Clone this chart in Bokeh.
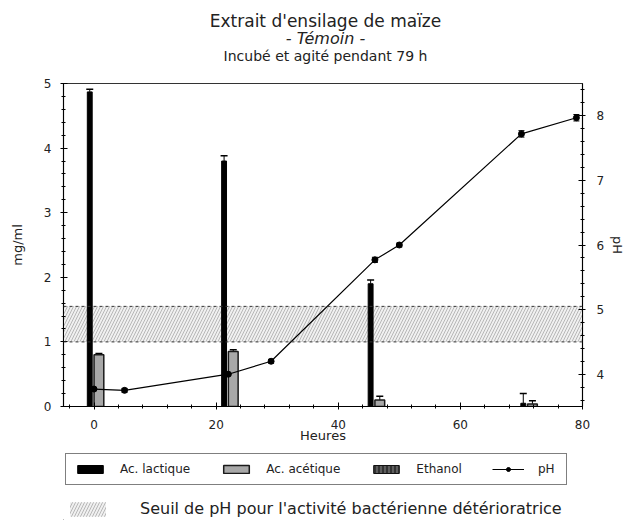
from bokeh.plotting import figure
from bokeh.layouts import column
from bokeh.models import (LinearAxis, Range1d, Legend, LegendItem, Whisker, Label,
                          TeeHead, ColumnDataSource, FixedTicker, Span)
from bokeh.embed import file_html
from bokeh.resources import INLINE

# ---------------- data ----------------
sample_hours = [0, 22, 46, 71]
lactic = [4.87, 3.80, 1.90, 0.05]
lactic_err = [0.04, 0.08, 0.06, 0.15]
acetic = [0.80, 0.85, 0.10, 0.04]
acetic_err = [0.02, 0.03, 0.06, 0.05]
ethanol = [0.0, 0.0, 0.0, 0.0]

ph_hours = [0, 5, 22, 29, 46, 50, 70, 79]
ph_values = [3.77, 3.75, 4.00, 4.20, 5.77, 6.00, 7.72, 7.97]
ph_err = [0.03, 0.03, 0.03, 0.03, 0.04, 0.03, 0.05, 0.05]

threshold_low, threshold_high = 4.5, 5.05

x_ticks = [0, 20, 40, 60, 80]
mg_ticks = [0, 1, 2, 3, 4, 5]
ph_ticks = [4, 5, 6, 7, 8]

x_lo, x_hi = -5, 80
mg_lo, mg_hi = 0, 5
ph_lo, ph_hi = 3.5, 8.5

FONT = "DejaVu Sans"
TXT = "#222222"

# styles shared by the plot and its legend panel
LAC = dict(fill_color="black", line_color="black")
ACE = dict(fill_color="#a8a8a8", line_color="#1a1a1a", line_width=1.5)
ETH = dict(fill_color="#333333", line_color="#111111", hatch_pattern="|",
           hatch_color="#8a8a8a", hatch_scale=4)
BAND = dict(fill_color="#f0f0f0", line_color=None, hatch_pattern="/",
            hatch_color="#a8a8a8", hatch_scale=6, hatch_weight=0.8)

lac_x = [h - 0.7 for h in sample_hours]
ace_x = [h + 0.8 for h in sample_hours]
eth_x = [h + 2.0 for h in sample_hours]

# ---------------- title panel ----------------
tp = figure(width=630, height=70, x_range=Range1d(0, 1), y_range=Range1d(0, 1),
            output_backend="svg", toolbar_location=None, x_axis_location=None,
            y_axis_location=None, min_border=0)
tp.grid.visible = False
tp.outline_line_color = None
for txt, ypos, size, style in [("Extrait d'ensilage de maïze", 50, "17px", "normal"),
                               ("- Témoin -", 32, "16px", "italic"),
                               ("Incubé et agité pendant 79 h", 15, "14px", "normal")]:
    tp.add_layout(Label(x=262, y=ypos, x_units="screen", y_units="screen", text=txt,
                        text_align="center", text_baseline="middle", text_font=FONT,
                        text_font_size=size, text_font_style=style, text_color=TXT))

# ---------------- main figure ----------------
p = figure(width=630, height=375, x_range=Range1d(x_lo, x_hi), y_range=Range1d(mg_lo, mg_hi),
           output_backend="svg", toolbar_location=None,
           min_border_left=63, min_border_right=48, min_border_top=13, min_border_bottom=37)
p.extra_y_ranges = {"ph": Range1d(ph_lo, ph_hi)}
p.xgrid.visible = False
p.ygrid.visible = False
p.outline_line_color = "#333333"
p.outline_line_width = 1.2

# threshold band
p.quad(left=[x_lo], right=[x_hi], bottom=[threshold_low], top=[threshold_high],
       y_range_name="ph", **BAND)
for loc in (threshold_low, threshold_high):
    p.add_layout(Span(location=loc, dimension="width", y_range_name="ph",
                      line_color="#333333", line_dash="3 3", line_width=1))

# bars
p.vbar(x=lac_x, top=lactic, width=0.8, **LAC)
p.vbar(x=ace_x, top=acetic, width=1.6, **ACE)
p.vbar(x=eth_x, top=ethanol, width=1.6, **ETH)

lac_src = ColumnDataSource(dict(x=lac_x, lo=lactic, up=[v + e for v, e in zip(lactic, lactic_err)]))
ace_src = ColumnDataSource(dict(x=ace_x, lo=acetic, up=[v + e for v, e in zip(acetic, acetic_err)]))
for src in (lac_src, ace_src):
    p.add_layout(Whisker(source=src, base="x", lower="lo", upper="up", dimension="height",
                         line_color="black", line_width=1,
                         upper_head=TeeHead(size=7, line_color="black", line_width=1.5),
                         lower_head=None))

# pH line
p.line(ph_hours, ph_values, y_range_name="ph", line_color="black", line_width=1.2)
p.scatter(ph_hours, ph_values, y_range_name="ph", marker="circle", size=6,
          fill_color="black", line_color="black")
ph_src = ColumnDataSource(dict(x=ph_hours, lo=[v - e for v, e in zip(ph_values, ph_err)],
                               up=[v + e for v, e in zip(ph_values, ph_err)]))
p.add_layout(Whisker(source=ph_src, base="x", lower="lo", upper="up", dimension="height",
                     y_range_name="ph", line_color="black", line_width=1,
                     upper_head=TeeHead(size=6, line_color="black"),
                     lower_head=TeeHead(size=6, line_color="black")))

# axes
def style_axis(ax):
    ax.axis_line_color = "black"
    ax.axis_line_width = 1
    ax.major_tick_line_color = "black"
    ax.minor_tick_line_color = "black"
    ax.major_tick_in = 4
    ax.major_tick_out = 3
    ax.minor_tick_in = 2
    ax.minor_tick_out = 2
    ax.major_label_text_font = FONT
    ax.major_label_text_font_size = "12px"
    ax.major_label_text_color = TXT
    ax.axis_label_text_font = FONT
    ax.axis_label_text_font_size = "13px"
    ax.axis_label_text_font_style = "normal"
    ax.axis_label_text_color = TXT

p.xaxis.ticker = FixedTicker(ticks=x_ticks, minor_ticks=list(range(-4, 81, 4)))
p.xaxis.axis_label = "Heures"
p.yaxis.ticker = FixedTicker(ticks=mg_ticks, minor_ticks=[i / 5 for i in range(0, 26)])
p.yaxis.axis_label = "mg/ml"
style_axis(p.xaxis[0])
style_axis(p.yaxis[0])
p.xaxis.major_label_standoff = 10
p.xaxis.axis_label_standoff = -4
p.yaxis.major_label_standoff = 9
p.yaxis.axis_label_standoff = 16

ph_axis = LinearAxis(y_range_name="ph", axis_label="pH",
                     ticker=FixedTicker(ticks=ph_ticks, minor_ticks=[3.6 + i / 5 for i in range(0, 25)]))
style_axis(ph_axis)
ph_axis.major_label_standoff = 11
ph_axis.axis_label_standoff = 3
p.add_layout(ph_axis, "right")

# ---------------- legend panel ----------------
# the legend panel draws the same series, but its ranges lie outside all data,
# so only the legend swatches are visible
lg = figure(width=630, height=75, x_range=Range1d(500, 501), y_range=Range1d(500, 501),
            output_backend="svg", toolbar_location=None, x_axis_location=None,
            y_axis_location=None, min_border=0)
lg.grid.visible = False
lg.outline_line_color = None

lg_lac = lg.vbar(x=lac_x, top=lactic, width=0.8, **LAC)
lg_ace = lg.vbar(x=ace_x, top=acetic, width=1.6, **ACE)
lg_eth = lg.vbar(x=eth_x, top=ethanol, width=1.6, **ETH)
lg_line = lg.line(ph_hours, ph_values, line_color="black", line_width=1.2)
lg_pts = lg.scatter(ph_hours, ph_values, marker="circle", size=6,
                    fill_color="black", line_color="black")
lg_band = lg.quad(left=[x_lo], right=[x_hi], bottom=[threshold_low], top=[threshold_high], **BAND)

leg1 = Legend(items=[LegendItem(label="Ac. lactique", renderers=[lg_lac]),
                     LegendItem(label="Ac. acétique", renderers=[lg_ace]),
                     LegendItem(label="Ethanol", renderers=[lg_eth]),
                     LegendItem(label="pH", renderers=[lg_line, lg_pts])],
              orientation="horizontal", location=(2, 35),
              border_line_color="black", border_line_width=1.5,
              label_text_font=FONT, label_text_font_size="12px", label_text_color=TXT,
              glyph_width=32, glyph_height=10, spacing=30, label_standoff=14,
              padding=8, margin=0)
leg2 = Legend(items=[LegendItem(label="Seuil de pH pour l'activité bactérienne détérioratrice",
                                renderers=[lg_band])],
              orientation="horizontal", location=(2, 2), border_line_color=None,
              label_text_font=FONT, label_text_font_size="16px", label_text_color=TXT,
              glyph_width=45, glyph_height=18, label_standoff=30, padding=0, margin=0,
              background_fill_alpha=0)
lg.add_layout(leg1)
lg.add_layout(leg2)

layout = column(tp, p, lg, spacing=0)
open("out.html", "w").write(file_html(layout, INLINE))
